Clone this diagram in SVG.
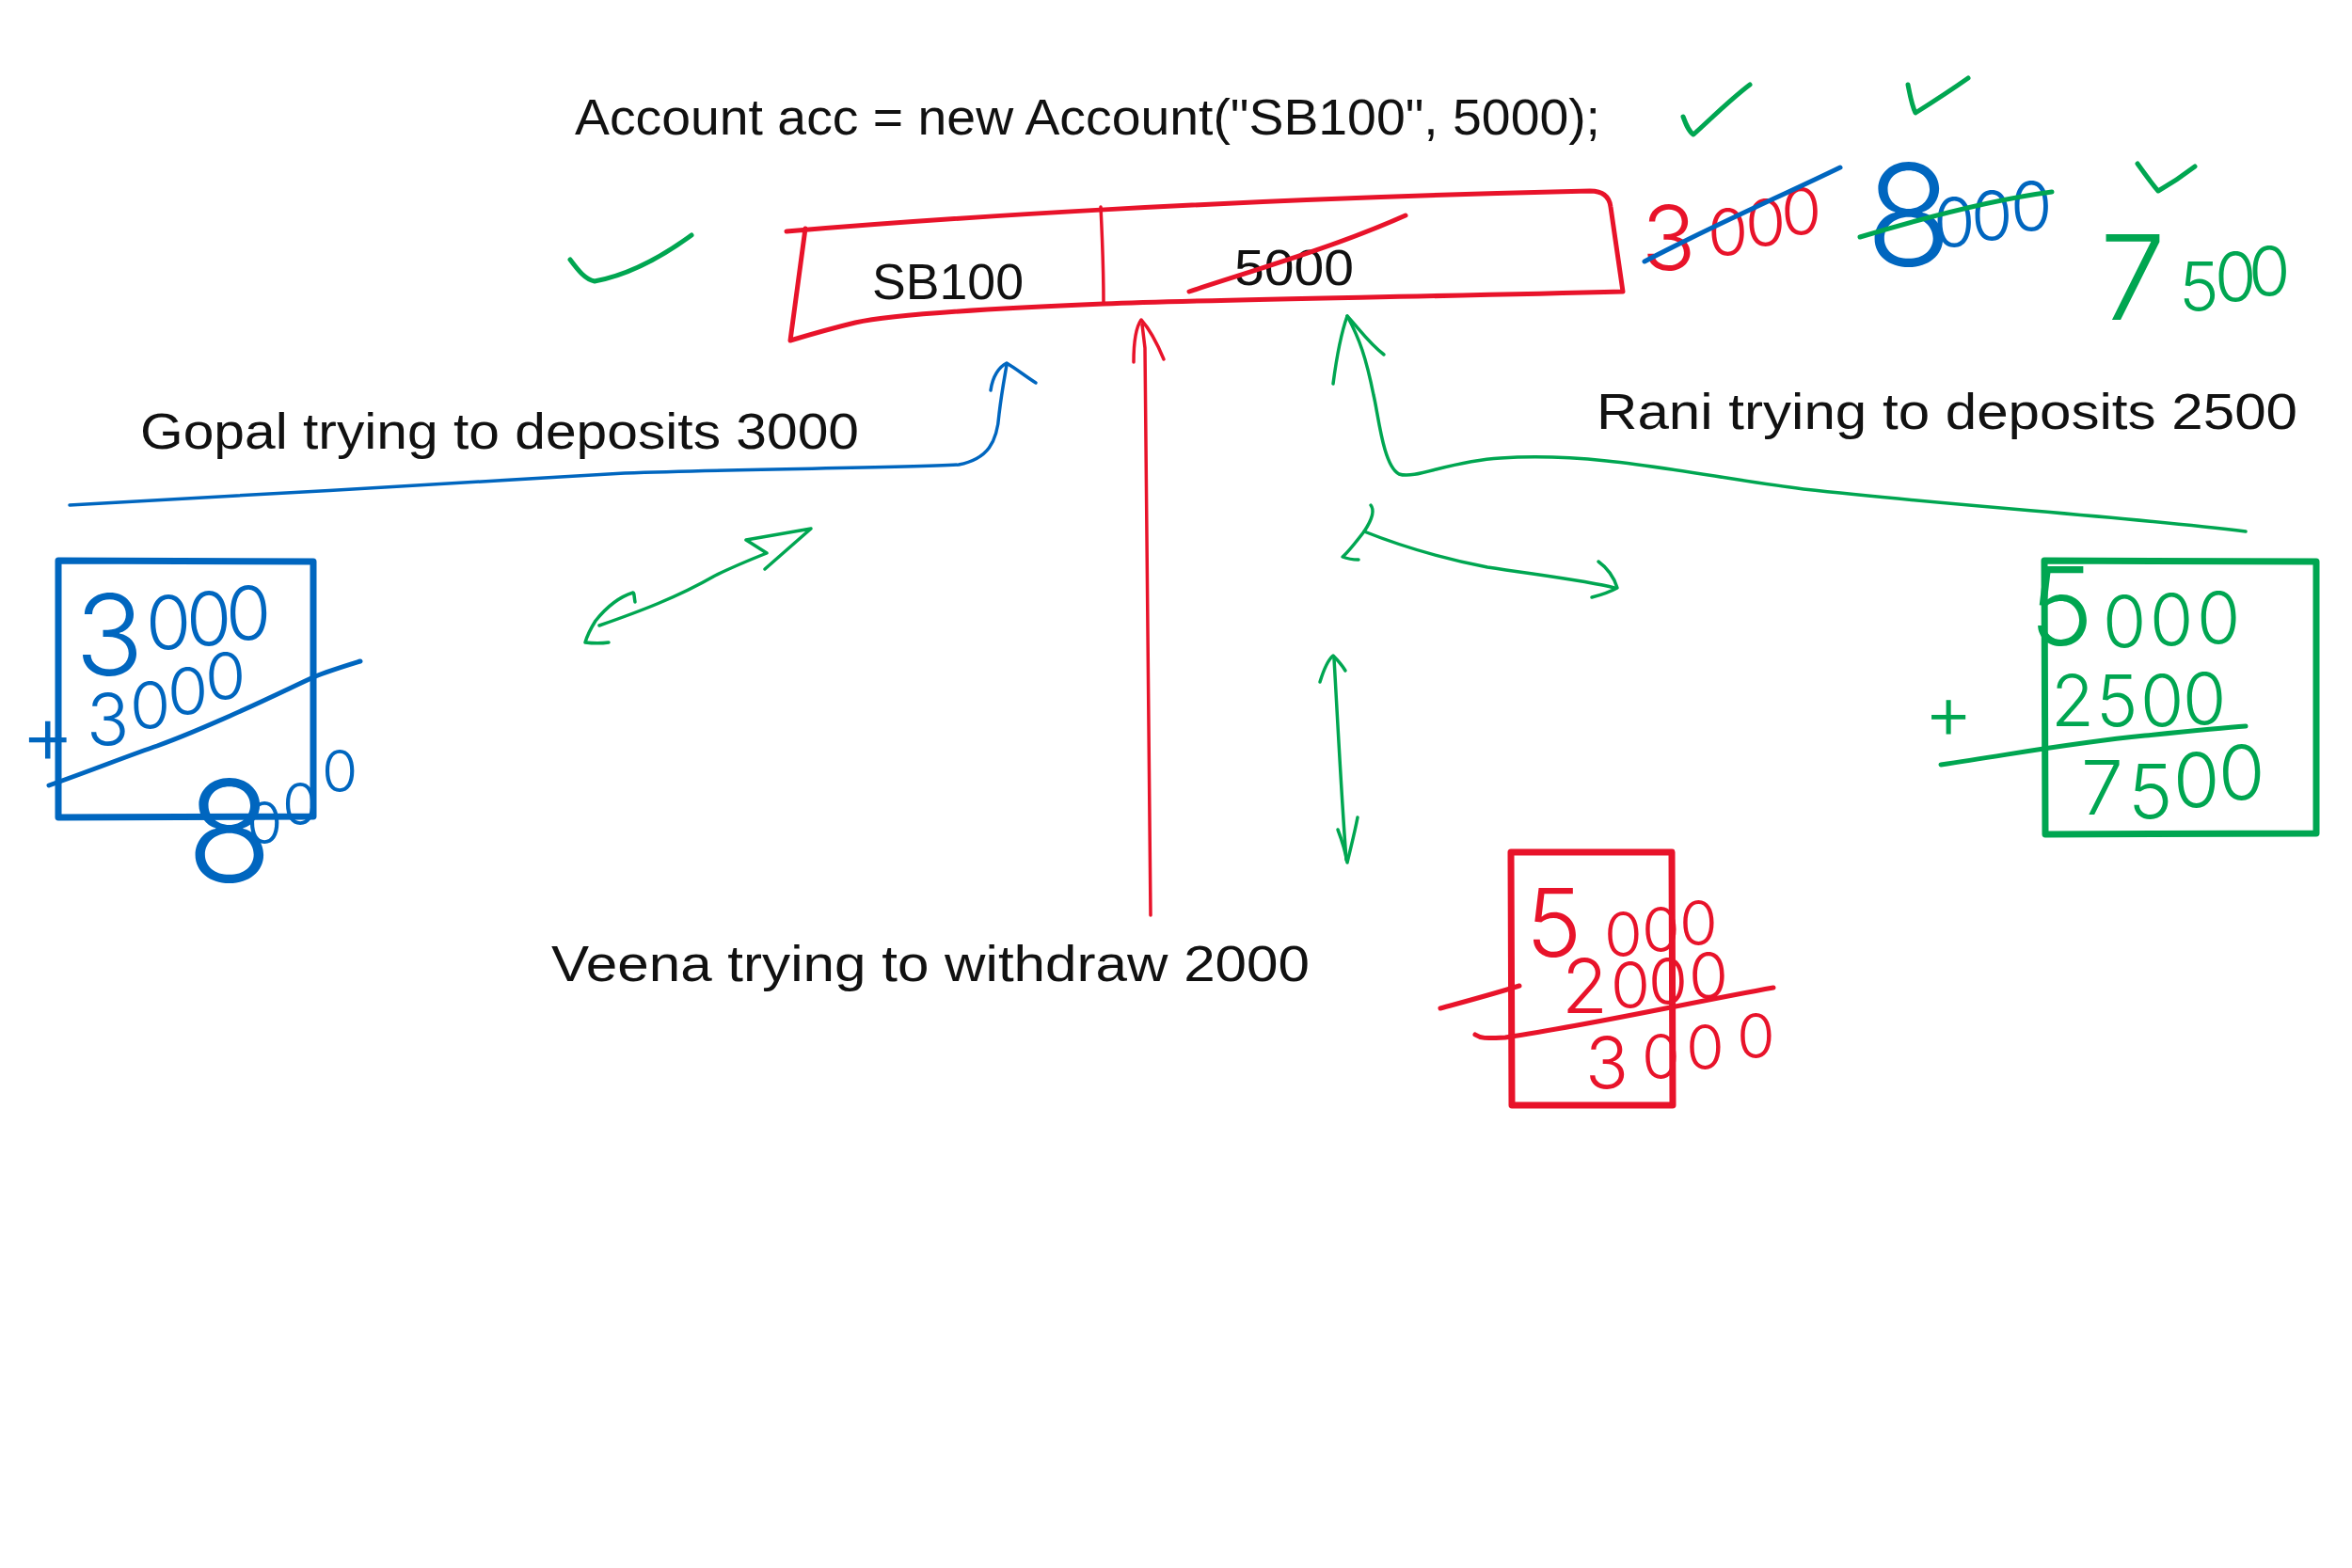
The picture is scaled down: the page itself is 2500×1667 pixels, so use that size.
<svg xmlns="http://www.w3.org/2000/svg" width="2500" height="1667" viewBox="0 0 2500 1667">
<style>
.typed{font-family:"Liberation Sans",Arial,sans-serif;font-size:54px;fill:#111;}
.ink{font-family:"Inter","Liberation Sans",sans-serif;font-weight:300;}
.r{fill:#E8132A;} .b{fill:#0066BF;} .g{fill:#00A651;}
.sr{fill:none;stroke:#E8132A;stroke-linecap:round;stroke-linejoin:round;}
.sb{fill:none;stroke:#0066BF;stroke-linecap:round;stroke-linejoin:round;}
.sg{fill:none;stroke:#00A651;stroke-linecap:round;stroke-linejoin:round;}
.box{stroke-width:7;}
.thin{stroke-width:3.5;}
.mid{stroke-width:5;}
</style>
<rect width="2500" height="1667" fill="#ffffff"/>

<g id="title">
<text class="typed" x="611" y="143" textLength="1090" lengthAdjust="spacingAndGlyphs">Account acc = new Account("SB100", 5000);</text>
</g>

<g id="account-object">
<path class="sr mid" d="M836,246 C1000,232 1300,212 1690,203 Q1710,203 1712,220 L1725,310 C1500,316 1300,318 1173,323 C1050,328 950,334 909,343 C880,350 860,356 840,362 L856,243"/>
<path class="sr thin" d="M1170,220 C1172,260 1173,295 1173,323"/>
<text class="typed" x="927" y="318" font-size="57" textLength="161" lengthAdjust="spacingAndGlyphs">SB100</text>
<text class="typed" x="1312" y="303" font-size="56" textLength="127" lengthAdjust="spacingAndGlyphs">5000</text>
<path class="sr mid" d="M1264,310 C1340,285 1420,262 1494,229"/>
</g>

<g id="balance-history">
<text class="ink r" font-size="95"><tspan x="1745" y="287">3</tspan><tspan x="1815 1855 1893" y="272 262 250" font-size="70">000</tspan></text>
<path class="sb mid" d="M1748,278 C1820,240 1890,210 1956,178"/>
<text class="ink b" font-size="150"><tspan x="1983" y="283">8</tspan><tspan x="2055 2095 2137" y="262 255 245" font-size="72">000</tspan></text>
<path class="sg mid" d="M1977,252 C2050,230 2120,212 2181,204"/>
<text class="ink g" font-size="125"><tspan x="2232" y="340">7</tspan><tspan x="2316 2354 2390" y="330 320 314" font-size="72">500</tspan></text>
<path class="sg mid" d="M1789,124 C1792,132 1795,140 1800,143 C1820,125 1840,105 1860,90"/>
<path class="sg mid" d="M2028,90 C2030,100 2032,112 2036,120 C2055,108 2075,95 2092,83"/>
<path class="sg mid" d="M2272,174 C2280,185 2287,195 2294,203 C2308,195 2320,187 2333,177"/>
<path class="sg mid" d="M606,276 C615,288 622,297 632,299 C670,292 705,272 735,250"/>
</g>

<g id="gopal-label">
<text class="typed" x="149" y="477" textLength="764" lengthAdjust="spacingAndGlyphs">Gopal trying to deposits 3000</text>
</g>

<g id="rani-label">
<text class="typed" x="1697" y="456" textLength="745" lengthAdjust="spacingAndGlyphs">Rani trying to deposits 2500</text>
</g>

<g id="veena-label">
<text class="typed" x="586" y="1043" textLength="806" lengthAdjust="spacingAndGlyphs">Veena trying to withdraw 2000</text>
</g>

<g id="gopal-calc">
<path class="sb box" d="M62,596 L333,597 L333,868 L62,869 Z"/>
<text class="ink b" font-size="120"><tspan x="80" y="718">3</tspan><tspan x="155 198 240" y="690 686 680" font-size="78">000</tspan></text>
<text class="ink b" font-size="88"><tspan x="22" y="812">+</tspan><tspan x="92" y="792" font-size="75">3</tspan><tspan x="138 178 218" y="775 760 744" font-size="70">000</tspan></text>
<path class="sb mid" d="M52,835 C100,818 140,802 167,793 C230,770 290,740 333,720 C350,713 370,707 383,703"/>
<text class="ink b" font-size="150"><tspan x="198" y="938">8</tspan><tspan x="262 300 342" y="897 877 842" font-size="62">000</tspan></text>
</g>

<g id="veena-calc">
<path class="sr box" d="M1606,906 L1777,906 L1778,1175 L1607,1175 Z"/>
<text class="ink r" font-size="100"><tspan x="1622" y="1017">5</tspan><tspan x="1705 1745 1785" y="1017 1012 1005" font-size="66">000</tspan></text>
<text class="ink r" font-size="80"><tspan x="1660" y="1077">2</tspan><tspan x="1712 1752 1795" y="1072 1068 1062" font-size="68">000</tspan></text>
<path class="sr mid" d="M1531,1072 C1560,1064 1590,1056 1615,1048"/>
<path class="sr mid" d="M1568,1100 C1574,1104 1578,1104 1600,1103 C1700,1088 1800,1065 1885,1050"/>
<text class="ink r" font-size="76"><tspan x="1685" y="1157">3</tspan><tspan x="1745 1792 1846" y="1147 1137 1125" font-size="66">000</tspan></text>
</g>

<g id="rani-calc">
<path class="sg box" d="M2173,596 L2462,597 L2462,886 L2174,887 Z"/>
<text class="ink g" font-size="115"><tspan x="2157" y="686">5</tspan><tspan x="2235 2285 2335" y="688 686 684" font-size="75">000</tspan></text>
<text class="ink g" font-size="80"><tspan x="2045" y="785">+</tspan><tspan x="2180 2228 2275 2320" y="772 772 772 770" font-size="75">2500</tspan></text>
<path class="sg mid" d="M2063,813 C2150,800 2200,790 2280,782 C2330,777 2360,774 2387,772"/>
<text class="ink g" font-size="80"><tspan x="2212 2262 2310 2358" y="866 870 858 850">7500</tspan></text>
</g>

<g id="connectors">
<path class="sb thin" d="M74,537 C250,528 500,512 664,503 C800,498 950,498 1019,494 C1050,488 1060,470 1062,440 C1065,415 1068,400 1070,388"/>
<path class="sb thin" d="M1053,415 C1055,400 1062,390 1070,386 C1080,392 1090,400 1101,407"/>
<path class="sr thin" d="M1223,973 C1222,800 1220,600 1217,370 L1214,345"/>
<path class="sr thin" d="M1205,385 C1205,362 1208,347 1213,340 C1222,350 1230,365 1237,382"/>
<path class="sg thin" d="M2387,565 C2250,548 2100,540 1917,520 C1800,505 1700,480 1595,487 C1540,490 1505,510 1487,504 C1470,495 1465,440 1460,420 C1452,380 1445,360 1432,336"/>
<path class="sg thin" d="M1417,408 C1422,370 1427,350 1432,336 C1445,350 1455,365 1471,377"/>
<path class="sg thin" d="M637,665 C680,650 720,635 760,612 C780,602 800,594 815,588 L793,574 L862,562 L813,605"/>
<path class="sg thin" d="M675,640 C674,634 674,630 673,630 C660,634 645,645 633,660 C628,668 624,676 622,683 C630,684 640,684 647,683"/>
<path class="sg thin" d="M1457,537 C1461,542 1460,550 1450,565 C1440,578 1432,588 1427,592 C1432,594 1438,595 1444,595"/>
<path class="sg thin" d="M1450,565 C1500,585 1540,595 1581,603 C1640,612 1690,618 1716,625"/>
<path class="sg thin" d="M1699,597 C1710,605 1716,615 1719,625 C1710,630 1700,633 1692,635"/>
<path class="sg thin" d="M1403,725 C1407,712 1411,702 1417,697 C1422,702 1427,708 1430,713"/>
<path class="sg thin" d="M1418,700 C1422,770 1426,850 1431,914"/>
<path class="sg thin" d="M1422,882 C1427,895 1430,905 1432,917 C1436,900 1440,885 1443,869"/>
</g>
</svg>
